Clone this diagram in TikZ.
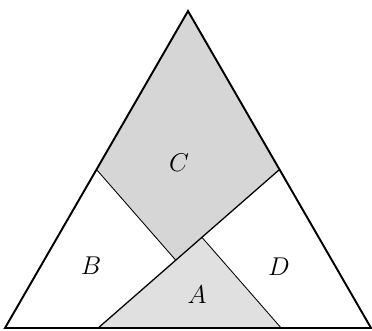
\documentclass[tikz,border=0pt]{standalone}
\usetikzlibrary{calc}
\begin{document}
\begin{tikzpicture}[x=1cm,y=1cm,
  outline/.style={line width=0.9pt,line join=miter},
  mainCut/.style={line width=0.6pt},
  perpCut/.style={line width=0.4pt},
  lab/.style={font=\large}]
\useasboundingbox (-0.082,-0.033) rectangle (6.016,5.377);
\coordinate (L) at (0,0);
\coordinate (R) at (6,0);
\coordinate (T) at (3,5.19615);
\coordinate (D) at (1.5,2.59808);
\coordinate (E) at (4.5,2.59808);
\coordinate (F) at (1.52704,0);
\coordinate (K) at (4.52704,0);
\coordinate (P) at ($(E)!(D)!(F)$);
\coordinate (Q) at ($(E)!(K)!(F)$);
\fill[black!16] (T) -- (D) -- (P) -- (E) -- cycle;
\fill[black!12] (F) -- (Q) -- (K) -- cycle;
\draw[mainCut] (E) -- (F);
\draw[perpCut] (D) -- (P);
\draw[perpCut] (Q) -- (K);
\draw[outline] (L) -- (R) -- (T) -- cycle;
\node[lab] (lc) at (2.852,2.705) {$C$};
\node[lab] (lb) at (1.410,1.016) {$B$};
\node[lab] (ld) at (4.492,1.000) {$D$};
\node[lab] (la) at (3.148,0.541) {$A$};
\end{tikzpicture}
\end{document}
